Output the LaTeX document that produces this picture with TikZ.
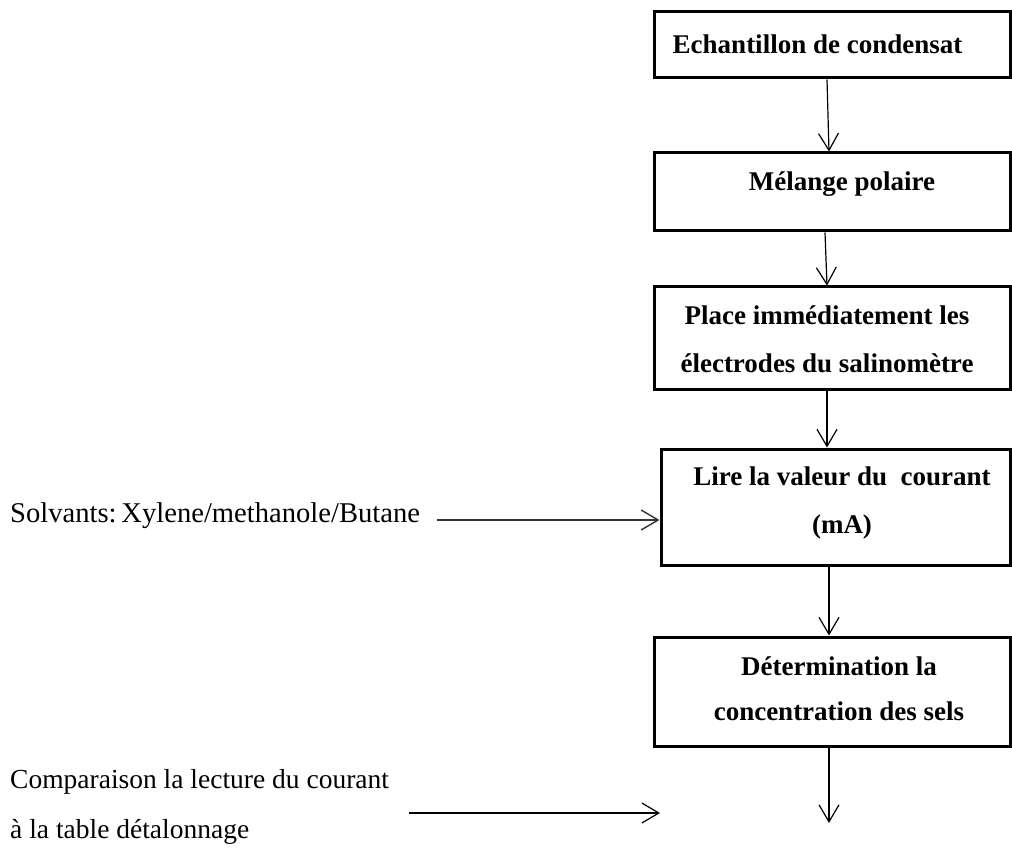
\documentclass[tikz,border=0pt]{standalone}
\usepackage{fontspec}
\setmainfont{Liberation Serif}
\usetikzlibrary{arrows.meta}
\begin{document}
\begin{tikzpicture}[x=1pt,y=-1pt,
  procbox/.style={draw=black, line width=3pt, rectangle, inner sep=0pt},
  boxtext/.style={font=\bfseries\fontsize{27}{48}\selectfont, align=center, inner sep=0pt},
  sidetext/.style={font=\fontsize{27.5}{49}\selectfont, inner sep=0pt, anchor=base west},
  flow/.style={draw=black, line width=1.2pt, -{Straight Barb[length=17pt,width=20pt]}},
  inflow/.style={draw=black!80, line width=1.4pt, -{Straight Barb[length=17pt,width=20pt]}}
]
\useasboundingbox (0,0) rectangle (1012,850);

% boxes
\node[procbox, minimum width=356pt, minimum height=66pt]  (b1) at (832,45) {};
\node[procbox, minimum width=356pt, minimum height=78pt]  (b2) at (832,192) {};
\node[procbox, minimum width=356pt, minimum height=102pt] (b3) at (832,338) {};
\node[procbox, minimum width=349pt, minimum height=116pt] (b4) at (835.5,507) {};
\node[procbox, minimum width=356pt, minimum height=109pt] (b5) at (832,691.5) {};

% box texts
\node[boxtext] (t1) at (817.5,44) {Echantillon de condensat};
\node[boxtext] (t2) at (842,184) {Mélange polaire};
\node[boxtext] (t3) at (827,339) {Place immédiatement les\\électrodes du salinomètre};
\node[boxtext] (t4) at (842,503) {Lire la valeur du~ courant\\(mA)};
\node[boxtext, font=\bfseries\fontsize{27}{45}\selectfont] (t5) at (839,689) {Détermination la\\concentration des sels};

% side texts
\node[sidetext, font=\fontsize{28.6}{34}\selectfont] (solv) at (10,522) {Solvants:\,Xylene/methanole/Butane};
\node[sidetext] (cmp1) at (10,788) {Comparaison la lecture du courant};
\node[sidetext] (cmp2) at (10,838) {à la table détalonnage};

% coordinates for free ends
\coordinate (s0) at (437,520);
\coordinate (c0) at (409,813);
\coordinate (c1) at (660,813);
\coordinate (e5) at (829,823);

% vertical connectors
\draw[flow] ([xshift=-5pt]b1.south) -- ([xshift=-3pt]b2.north);
\draw[flow] ([xshift=-7pt]b2.south) -- ([xshift=-5pt]b3.north);
\draw[flow] ([xshift=-5pt]b3.south) -- ([xshift=-8.5pt]b4.north);
\draw[flow] ([xshift=-6.5pt]b4.south) -- ([xshift=-3pt]b5.north);
\draw[flow] ([xshift=-3pt]b5.south) -- (e5);

% horizontal connectors
\draw[inflow] (s0) -- ([yshift=-13pt]b4.west);
\draw[flow] (c0) -- (c1);
\end{tikzpicture}
\end{document}
